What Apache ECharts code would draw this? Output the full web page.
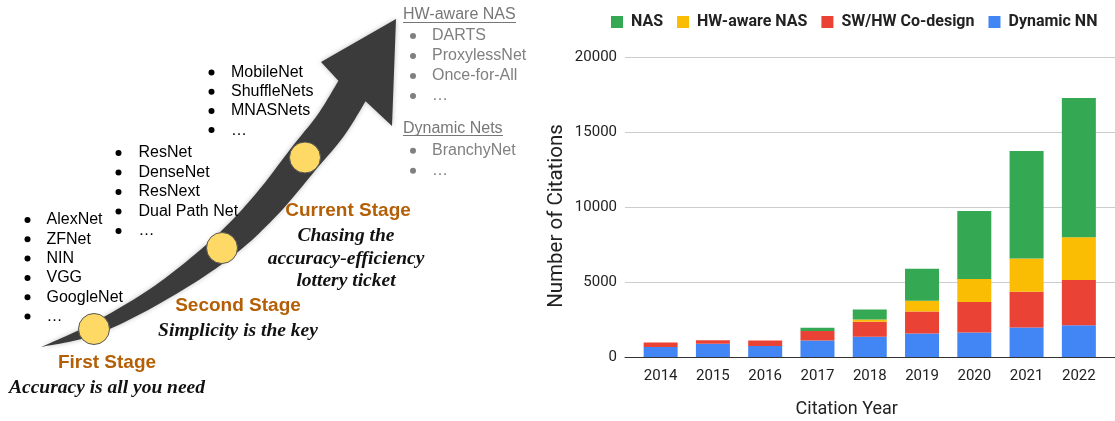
<!DOCTYPE html>
<html>
<head>
<meta charset="utf-8">
<script src="https://cdn.jsdelivr.net/npm/echarts@6/dist/echarts.min.js"></script>
<style>
  html, body { margin: 0; padding: 0; background: #fff; }
  #main { width: 1115px; height: 421px; }
</style>
</head>
<body>
<div id="main"></div>
<script>
// chart data
var years = ["2014", "2015", "2016", "2017", "2018", "2019", "2020", "2021", "2022"];
var dynamicNN = [670, 890, 730, 1100, 1350, 1570, 1640, 1970, 2110];
var swhwCodesign = [290, 220, 370, 630, 1000, 1470, 2030, 2380, 3030];
var hwAwareNAS = [0, 0, 0, 0, 150, 710, 1530, 2220, 2840];
var nas = [0, 0, 0, 220, 670, 2130, 4530, 7160, 9290];
var yTicks = [0, 5000, 10000, 15000, 20000];

// illustration text
var firstList = ["AlexNet", "ZFNet", "NIN", "VGG", "GoogleNet", "…"];
var secondList = ["ResNet", "DenseNet", "ResNext", "Dual Path Net", "…"];
var thirdList = ["MobileNet", "ShuffleNets", "MNASNets", "…"];
var hwNasList = ["DARTS", "ProxylessNet", "Once-for-All", "…"];
var dynNetList = ["BranchyNet", "…"];
var stages = [
  { title: "First Stage", lines: ["Accuracy is all you need"], x: 107, y: 363 },
  { title: "Second Stage", lines: ["Simplicity is the key"], x: 238, y: 306 },
  { title: "Current Stage", lines: ["Chasing the", "accuracy-efficiency", "lottery ticket"], x: 348, y: 211 }
];

var sans = '"Liberation Sans", Arial, sans-serif';
var serif = '"Liberation Serif", "Times New Roman", serif';
var orange = "#b45f06";

function txt(s, x, y, font, fill, align) {
  return {
    type: "text", x: x, y: y, z: 10,
    style: {
      text: s, font: font, fill: fill,
      align: align || "left", textAlign: align || "left",
      verticalAlign: "middle", textVerticalAlign: "middle"
    }
  };
}

function bulletList(items, bx, tx, y0, dy, color) {
  var out = [];
  items.forEach(function (s, i) {
    var y = y0 + i * dy;
    out.push({ type: "circle", z: 10, shape: { cx: bx, cy: y, r: 3 }, style: { fill: color } });
    out.push(txt(s, tx, y, "16px " + sans, color));
  });
  return out;
}

// sample a smooth curve through points (catmull-rom as cubic bezier)
function smooth(pts) {
  var out = [];
  for (var i = 0; i < pts.length - 1; i++) {
    var p0 = pts[i - 1] || pts[i], p1 = pts[i], p2 = pts[i + 1], p3 = pts[i + 2] || p2;
    var c1 = [p1[0] + (p2[0] - p0[0]) / 6, p1[1] + (p2[1] - p0[1]) / 6];
    var c2 = [p2[0] - (p3[0] - p1[0]) / 6, p2[1] - (p3[1] - p1[1]) / 6];
    for (var k = 0; k < 12; k++) {
      var t = k / 12, u = 1 - t;
      out.push([
        u * u * u * p1[0] + 3 * u * u * t * c1[0] + 3 * u * t * t * c2[0] + t * t * t * p2[0],
        u * u * u * p1[1] + 3 * u * u * t * c1[1] + 3 * u * t * t * c2[1] + t * t * t * p2[1]
      ]);
    }
  }
  out.push(pts[pts.length - 1]);
  return out;
}

var upper = [[41, 347], [91.3, 323.7], [155.1, 285.4], [213.8, 237.9], [255.2, 194.5], [292.3, 146.5], [317.7, 114.5], [338.4, 80.8]];
var lower = [[365.6, 101.2], [344.3, 135.5], [317.7, 167.5], [276.8, 215.5], [230.2, 258.1], [164.9, 300.6], [96.7, 334.3], [41, 347]];
var arrowPts = smooth(upper).concat([[321, 62], [396, 19], [392, 126]]).concat(smooth(lower));

var graphics = [{
  type: "polygon", z: 5,
  shape: { points: arrowPts },
  style: { fill: "#3b3b3b", shadowBlur: 5, shadowColor: "rgba(0,0,0,0.25)" }
}];
[[94, 329, 15.5], [222, 248, 15.5], [305, 157.5, 15.5]].forEach(function (c) {
  graphics.push({ type: "circle", z: 8, shape: { cx: c[0], cy: c[1], r: c[2] }, style: { fill: "#ffd966", stroke: "#555", lineWidth: 1 } });
});

graphics = graphics
  .concat(bulletList(firstList, 27.5, 46.5, 220, 19.3, "#000"))
  .concat(bulletList(secondList, 118.5, 138.5, 153, 19.5, "#000"))
  .concat(bulletList(thirdList, 211.5, 231, 72.5, 19.2, "#000"))
  .concat(bulletList(hwNasList, 413, 432, 36, 20, "#808080"))
  .concat(bulletList(dynNetList, 413, 432, 150.7, 20, "#808080"));

graphics.push(txt("HW-aware NAS", 403, 15, "16px " + sans, "#777"));
graphics.push({ type: "line", z: 10, shape: { x1: 403, y1: 22.5, x2: 516, y2: 22.5 }, style: { stroke: "#777", lineWidth: 1 } });
graphics.push(txt("Dynamic Nets", 403, 128.3, "16px " + sans, "#777"));
graphics.push({ type: "line", z: 10, shape: { x1: 403, y1: 135.5, x2: 503, y2: 135.5 }, style: { stroke: "#777", lineWidth: 1 } });

stages.forEach(function (s) {
  graphics.push(txt(s.title, s.x, s.y, "bold 19px " + sans, orange, "center"));
  s.lines.forEach(function (l, i) {
    graphics.push(txt(l, s.x - (s.lines.length > 1 ? 2 : 0), s.y + 25 + i * 22.7, "italic bold 19.5px " + serif, "#111", "center"));
  });
});

var myChart = echarts.init(document.getElementById("main"));
var option = {
  animation: false,
  textStyle: { fontFamily: "Roboto, sans-serif" },
  color: ["#4285f4", "#ea4335", "#fbbc04", "#34a853"],
  legend: {
    data: ["NAS", "HW-aware NAS", "SW/HW Co-design", "Dynamic NN"],
    left: 611,
    top: 14,
    padding: 0,
    icon: "rect",
    itemWidth: 12,
    itemHeight: 12,
    itemGap: 14,
    textStyle: { fontSize: 16, fontWeight: "bold", color: "#222", padding: [0, 0, 0, 3] }
  },
  grid: [
    { left: 625, right: 0, top: 57, bottom: 64, outerBoundsMode: "none" },
    { left: 634.5, right: 10, top: 57, bottom: 64, outerBoundsMode: "none" }
  ],
  xAxis: [
    {
      gridIndex: 0, type: "value", min: 0, max: 1,
      axisLine: { show: true, lineStyle: { color: "#333", width: 1 } },
      axisTick: { show: false }, axisLabel: { show: false }, splitLine: { show: false }
    },
    {
      gridIndex: 1, type: "category", data: years,
      axisLine: { show: false }, axisTick: { show: false },
      axisLabel: { fontSize: 15, color: "#222", margin: 12 },
      name: "Citation Year", nameLocation: "middle", nameGap: 43,
      nameTextStyle: { fontSize: 18, color: "#222", padding: [0, 46, 0, 0] }
    }
  ],
  yAxis: [
    {
      gridIndex: 0, type: "value", min: yTicks[0], max: yTicks[yTicks.length - 1], interval: 5000,
      axisLine: { show: false }, axisTick: { show: false },
      axisLabel: { fontSize: 15, color: "#222", margin: 8, formatter: function (v) { return String(v); } },
      splitLine: { lineStyle: { color: "#ccc", width: 1 } },
      name: "Number of Citations", nameLocation: "middle", nameGap: 58,
      nameTextStyle: { fontSize: 20.5, color: "#222", padding: [0, 18, 0, 0] }
    },
    {
      gridIndex: 1, type: "value", min: yTicks[0], max: yTicks[yTicks.length - 1], interval: 5000, show: false
    }
  ],
  series: [
    { name: "Dynamic NN", type: "bar", stack: "total", xAxisIndex: 1, yAxisIndex: 1, barWidth: 34, data: dynamicNN },
    { name: "SW/HW Co-design", type: "bar", stack: "total", xAxisIndex: 1, yAxisIndex: 1, barWidth: 34, data: swhwCodesign },
    { name: "HW-aware NAS", type: "bar", stack: "total", xAxisIndex: 1, yAxisIndex: 1, barWidth: 34, data: hwAwareNAS },
    { name: "NAS", type: "bar", stack: "total", xAxisIndex: 1, yAxisIndex: 1, barWidth: 34, data: nas }
  ],
  graphic: graphics
};
myChart.setOption(option);
window.addEventListener("resize", function () {
  myChart.resize();
});
</script>
</body>
</html>
